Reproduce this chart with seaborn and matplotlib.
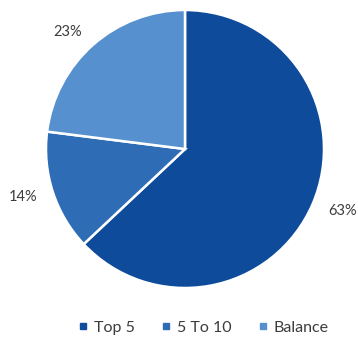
import matplotlib
matplotlib.use("Agg")
import matplotlib.pyplot as plt
import seaborn as sns
from matplotlib.lines import Line2D

categories = ["Top 5", "5 To 10", "Balance"]
shares = [63, 14, 23]
colors = ["#0E4C9B", "#2E6DB6", "#5690CF"]

sns.set_theme(style="white")
plt.rcParams["font.family"] = ["Lato", "DejaVu Sans"]

fig = plt.figure(figsize=(3.58, 3.38), dpi=100)
ax = fig.add_axes([0.1285, 0.1479, 0.7765, 0.8225])

wedges, texts = ax.pie(
    shares,
    colors=colors,
    startangle=90,
    counterclock=False,
    labels=[f"{v}%" for v in shares],
    labeldistance=1.12,
    wedgeprops=dict(edgecolor="white", linewidth=1.8),
    textprops=dict(color="#3c3c3c", fontsize=10.5),
)
ax.set_xlim(-1, 1)
ax.set_ylim(-1, 1)
ax.set_aspect("equal")
ax.axis("off")

handles = [Line2D([0], [0], marker="s", linestyle="none", markersize=4.5,
                  markerfacecolor=c, markeredgecolor=c) for c in colors]
fig.legend(handles, categories, loc="center", bbox_to_anchor=(0.567, 0.03),
           ncol=3, frameon=False, fontsize=11.5, handlelength=0.7,
           handletextpad=0.35, columnspacing=1.6, labelcolor="#3c3c3c")

fig.savefig("out.png", dpi=100)
